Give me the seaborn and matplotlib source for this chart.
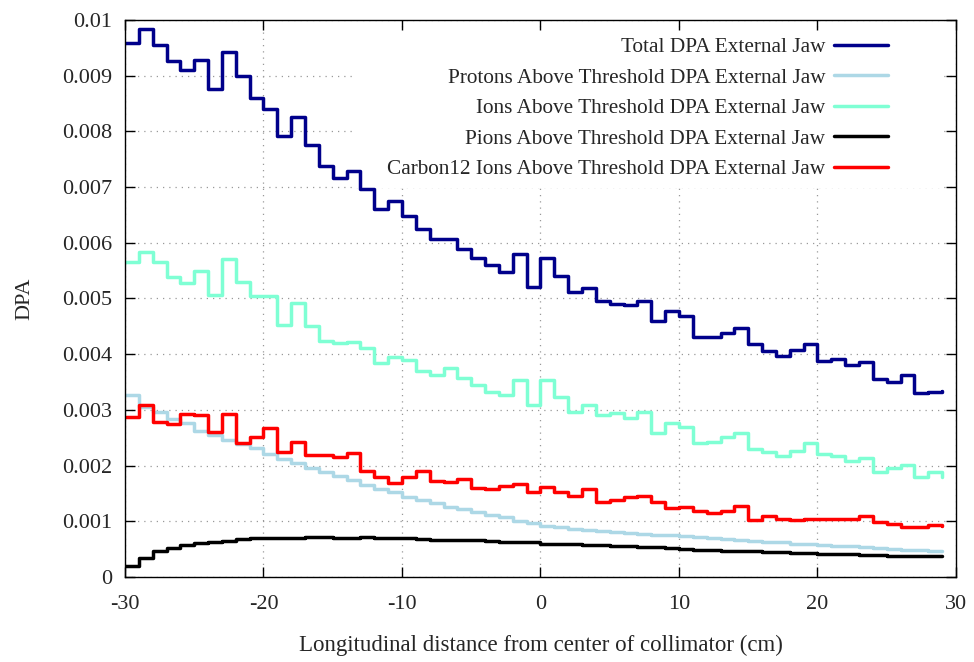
import matplotlib
matplotlib.use("Agg")
import matplotlib.pyplot as plt
from matplotlib.patches import Rectangle
from matplotlib.ticker import MultipleLocator, FuncFormatter
import seaborn as sns

# Left edge of each 1 cm bin along the jaw (the last entry closes the histogram)
position_cm = list(range(-30, 30))

total_dpa = [
    0.00958, 0.00984, 0.00956, 0.00927, 0.00911, 0.00929, 0.00877, 0.00942, 0.00900, 0.00860,
    0.00841, 0.00792, 0.00825, 0.00776, 0.00738, 0.00717, 0.00728, 0.00696, 0.00660, 0.00675,
    0.00649, 0.00624, 0.00606, 0.00606, 0.00589, 0.00573, 0.00561, 0.00547, 0.00579, 0.00520,
    0.00573, 0.00540, 0.00511, 0.00519, 0.00495, 0.00491, 0.00489, 0.00495, 0.00460, 0.00477,
    0.00468, 0.00430, 0.00430, 0.00438, 0.00447, 0.00419, 0.00406, 0.00397, 0.00407, 0.00419,
    0.00388, 0.00392, 0.00380, 0.00386, 0.00355, 0.00350, 0.00363, 0.00330, 0.00333, 0.00334,
]

protons_dpa = [
    0.00327, 0.00305, 0.00296, 0.00284, 0.00276, 0.00263, 0.00255, 0.00246, 0.00239, 0.00231,
    0.00221, 0.00212, 0.00204, 0.00195, 0.00189, 0.00182, 0.00174, 0.00166, 0.00158, 0.00152,
    0.00144, 0.00138, 0.00133, 0.00126, 0.00122, 0.00116, 0.00111, 0.00107, 0.00100, 0.00097,
    0.00092, 0.00089, 0.00086, 0.00084, 0.00082, 0.00080, 0.00079, 0.00077, 0.00076, 0.00075,
    0.00073, 0.00071, 0.00070, 0.00068, 0.00067, 0.00065, 0.00063, 0.00062, 0.00060, 0.00059,
    0.00057, 0.00056, 0.00055, 0.00053, 0.00052, 0.00050, 0.00049, 0.00048, 0.00047, 0.00047,
]

ions_dpa = [
    0.00566, 0.00584, 0.00566, 0.00538, 0.00528, 0.00549, 0.00506, 0.00571, 0.00530, 0.00504,
    0.00504, 0.00453, 0.00492, 0.00450, 0.00424, 0.00420, 0.00422, 0.00412, 0.00384, 0.00395,
    0.00389, 0.00369, 0.00363, 0.00375, 0.00357, 0.00345, 0.00333, 0.00327, 0.00354, 0.00308,
    0.00353, 0.00324, 0.00297, 0.00308, 0.00290, 0.00294, 0.00285, 0.00297, 0.00258, 0.00276,
    0.00270, 0.00240, 0.00242, 0.00252, 0.00259, 0.00230, 0.00224, 0.00217, 0.00226, 0.00240,
    0.00220, 0.00218, 0.00209, 0.00214, 0.00189, 0.00195, 0.00201, 0.00179, 0.00189, 0.00180,
]

pions_dpa = [
    0.00020, 0.00035, 0.00046, 0.00052, 0.00058, 0.00061, 0.00063, 0.00065, 0.00068, 0.00070,
    0.00070, 0.00070, 0.00070, 0.00071, 0.00071, 0.00070, 0.00070, 0.00071, 0.00070, 0.00070,
    0.00070, 0.00069, 0.00067, 0.00067, 0.00066, 0.00066, 0.00064, 0.00063, 0.00062, 0.00062,
    0.00060, 0.00060, 0.00059, 0.00057, 0.00057, 0.00055, 0.00055, 0.00054, 0.00053, 0.00052,
    0.00050, 0.00049, 0.00048, 0.00047, 0.00047, 0.00047, 0.00045, 0.00044, 0.00043, 0.00043,
    0.00042, 0.00041, 0.00041, 0.00039, 0.00039, 0.00038, 0.00037, 0.00037, 0.00037, 0.00037,
]

carbon12_dpa = [
    0.00287, 0.00308, 0.00279, 0.00275, 0.00293, 0.00291, 0.00261, 0.00293, 0.00240, 0.00251,
    0.00267, 0.00225, 0.00242, 0.00219, 0.00219, 0.00216, 0.00222, 0.00191, 0.00180, 0.00169,
    0.00180, 0.00191, 0.00173, 0.00170, 0.00176, 0.00160, 0.00158, 0.00164, 0.00167, 0.00153,
    0.00162, 0.00153, 0.00146, 0.00158, 0.00134, 0.00138, 0.00143, 0.00146, 0.00134, 0.00123,
    0.00125, 0.00119, 0.00115, 0.00118, 0.00128, 0.00102, 0.00110, 0.00104, 0.00103, 0.00104,
    0.00104, 0.00104, 0.00104, 0.00109, 0.00099, 0.00095, 0.00089, 0.00089, 0.00093, 0.00091,
]

series_labels = [
    "Total DPA External Jaw",
    "Protons Above Threshold DPA External Jaw",
    "Ions Above Threshold DPA External Jaw",
    "Pions Above Threshold DPA External Jaw",
    "Carbon12 Ions Above Threshold DPA External Jaw",
]
series_values = [total_dpa, protons_dpa, ions_dpa, pions_dpa, carbon12_dpa]
series_colors = ["#00008b", "#add8e6", "#7fffd4", "#000000", "#ff0000"]

x_ticks_step = 10
y_ticks_step = 0.001

sns.set_style("ticks")
plt.rcParams["font.family"] = ["Liberation Serif", "DejaVu Serif"]
plt.rcParams["axes.unicode_minus"] = False

fig, ax = plt.subplots(figsize=(9.74, 6.62), dpi=100)
fig.subplots_adjust(left=0.1283, right=0.9815, bottom=0.1284, top=0.9698)

for values, label, color in zip(series_values, series_labels, series_colors):
    sns.lineplot(
        x=position_cm, y=values, ax=ax, color=color, label=label,
        drawstyle="steps-post", linewidth=2.5, estimator=None, sort=False,
    )

ax.set_xlim(-30, 30)
ax.set_ylim(0, 0.01)
ax.xaxis.set_major_locator(MultipleLocator(x_ticks_step))
ax.yaxis.set_major_locator(MultipleLocator(y_ticks_step))
ax.yaxis.set_major_formatter(FuncFormatter(lambda v, _: "%g" % round(v, 6)))

ax.set_axisbelow(True)
ax.grid(True, color="#999999", linewidth=0.9, linestyle=(0, (1, 4)))

for spine in ax.spines.values():
    spine.set_visible(True)
    spine.set_color("black")
    spine.set_linewidth(1.0)

ax.tick_params(axis="both", direction="in", top=True, right=True,
               length=7, width=1, color="black", labelsize=16)
ax.tick_params(axis="x", pad=13)
ax.tick_params(axis="y", pad=9)

# white backdrop behind the key so the grid does not run through it
ax.add_patch(Rectangle((0.277, 0.698), 0.704, 0.282, transform=ax.transAxes,
                       facecolor="white", edgecolor="none", zorder=1))

ax.legend(loc="upper right", bbox_to_anchor=(0.918, 0.969), frameon=False,
          markerfirst=False, fontsize=15.3, handlelength=2.55, handletextpad=0.4,
          labelspacing=0.5, borderpad=0, borderaxespad=0)

ax.set_xlabel("Longitudinal distance from center of collimator (cm)", fontsize=16.5, labelpad=15)
ax.set_ylabel("DPA", fontsize=16, labelpad=20)

fig.savefig("out.png", dpi=100)
